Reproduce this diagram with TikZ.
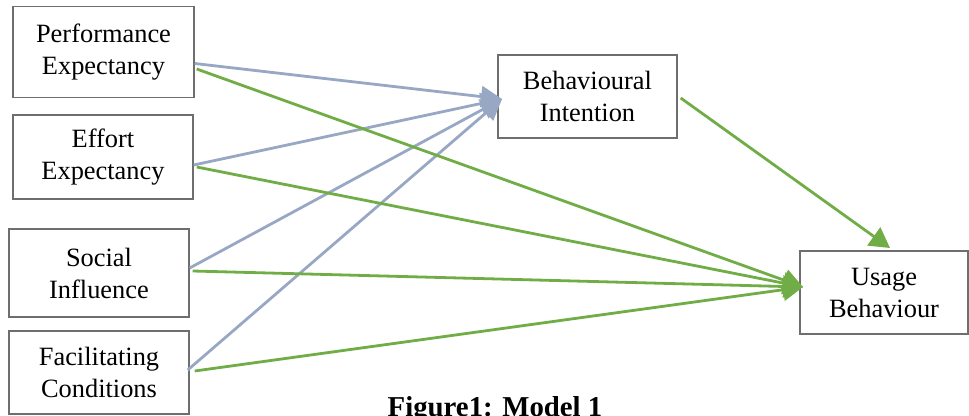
\documentclass[tikz,border=0pt]{standalone}
\usepackage{fontspec}
\setmainfont{Liberation Serif}
\usetikzlibrary{arrows.meta}
\definecolor{bluegray}{RGB}{152,168,196}
\definecolor{grn}{RGB}{112,173,71}
\definecolor{boxline}{RGB}{110,110,110}
\tikzset{
  box/.style={draw=boxline, line width=1.4pt, fill=white, align=center, inner sep=0pt,
    font=\fontsize{26.4}{32}\selectfont},
  gline/.style={draw=bluegray, line width=2.8pt, -{Triangle[length=21pt,width=21pt]}},
  vline/.style={draw=grn, line width=2.8pt, -{Triangle[length=20pt,width=22pt]}}
}
\begin{document}
\begin{tikzpicture}[x=1pt,y=-1pt]
\useasboundingbox (0,0) rectangle (969,415);
\node[box, minimum width=181pt, minimum height=91pt] (pe) at (103.5,52) {Performance\\Expectancy};
\node[box, minimum width=180pt, minimum height=84pt] (ee) at (103,157) {Effort\\Expectancy};
\node[box, minimum width=180pt, minimum height=88pt] (si) at (99,273) {Social\\Influence};
\node[box, minimum width=180pt, minimum height=83pt] (fc) at (99,372.5) {Facilitating\\Conditions};
\node[box, minimum width=179pt, minimum height=83pt] (bi) at (587.5,96.5) {Behavioural\\Intention};
\node[box, minimum width=168pt, minimum height=83pt] (ub) at (884,292.5) {Usage\\Behaviour};
\node[font=\fontsize{28.8}{32}\selectfont\bfseries, anchor=base] (cap) at (495,416) {Figure1: Model 1};
% target points
\coordinate (bitip) at (502,99);
\coordinate (ubtip) at (803,287);
\coordinate (ubtop) at (890,248);
% gray arrows to Behavioural Intention
\draw[gline] ([yshift=-11.5pt]pe.east) -- (bitip);
\draw[gline] ([yshift=-8pt]ee.east) -- (bitip);
\draw[gline] ([yshift=5pt]si.east) -- (bitip);
\draw[gline] ([xshift=-2pt,yshift=2.5pt]fc.east) -- (bitip);
% green arrows to Usage Behaviour
\draw[vline] ([xshift=2pt,yshift=-17pt]pe.east) -- (ubtip);
\draw[vline] ([xshift=3pt,yshift=-10pt]ee.east) -- (ubtip);
\draw[vline] ([xshift=3pt,yshift=2pt]si.east) -- (ubtip);
\draw[vline] ([xshift=5pt,yshift=1.5pt]fc.east) -- (ubtip);
\draw[vline] ([xshift=3pt,yshift=-1.5pt]bi.east) -- (ubtop);
\end{tikzpicture}
\end{document}
